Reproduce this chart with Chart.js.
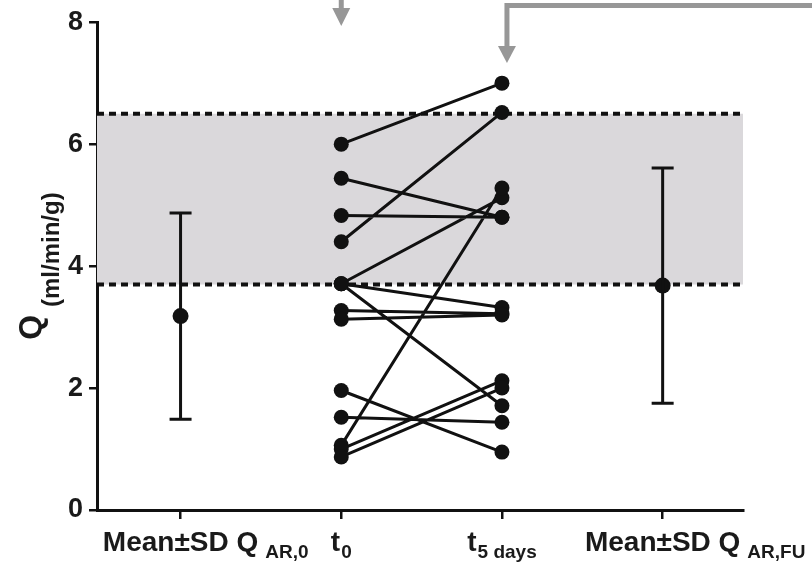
<!DOCTYPE html>
<html lang="en">
<head>
    <meta charset="UTF-8">
    <title>Q at t0 and t5 days</title>
    <style>
        html, body { margin: 0; padding: 0; background: #fff; }
        canvas { display: block; }
    </style>
</head>
<body>
    <canvas id="qChart" width="812" height="563"></canvas>

    <script src="https://cdn.jsdelivr.net/npm/chart.js"></script>
    <script>
        // x categories and their subscripts
        const categories = ['Mean±SD Q', 't', 't', 'Mean±SD Q'];
        const categorySubs = ['AR,0', '0', '5 days', 'AR,FU'];

        // paired Q values (ml/min/g) per subject
        const qT0 = [6.0, 5.44, 4.83, 4.4, 3.71, 3.71, 3.71, 3.27, 3.13, 1.96, 1.52, 1.06, 1.0, 0.87];
        const qT5 = [7.0, 4.8, 4.8, 6.52, 5.12, 3.32, 1.71, 3.22, 3.2, 0.95, 1.44, 5.28, 2.12, 2.0];

        // mean ± SD for AR,0 and AR,FU
        const meanQ = [3.18, 3.68];
        const sdQ = [1.69, 1.93];

        // reference range (shaded)
        const refRange = [3.7, 6.5];
        const yTicks = [0, 2, 4, 6, 8];

        const X_MIN = -0.52, X_MAX = 3.5;
        const FONT = '"Liberation Sans", Arial, Helvetica, sans-serif';
        const INK = '#111';

        const pairData = [];
        qT0.forEach((v, i) => {
            pairData.push({ x: 1, y: v }, { x: 2, y: qT5[i] }, { x: 1.5, y: null });
        });

        const meanData = [{ x: 0, y: meanQ[0] }, { x: 3, y: meanQ[1] }];

        function refLine(v) {
            return [{ x: X_MIN, y: v }, { x: X_MAX, y: v }];
        }

        // SD whiskers with caps
        const errorBars = {
            id: 'errorBars',
            afterDatasetsDraw(chart) {
                const ctx = chart.ctx, xs = chart.scales.x, ys = chart.scales.y;
                ctx.save();
                ctx.strokeStyle = INK;
                ctx.lineWidth = 3;
                meanData.forEach((p, i) => {
                    const x = xs.getPixelForValue(p.x);
                    const yTop = ys.getPixelForValue(meanQ[i] + sdQ[i]);
                    const yBot = ys.getPixelForValue(meanQ[i] - sdQ[i]);
                    ctx.beginPath();
                    ctx.moveTo(x, yTop); ctx.lineTo(x, yBot);
                    ctx.moveTo(x - 11, yTop); ctx.lineTo(x + 11, yTop);
                    ctx.moveTo(x - 11, yBot); ctx.lineTo(x + 11, yBot);
                    ctx.stroke();
                });
                ctx.restore();
            }
        };

        // axis labels with subscripts, and the gray arrows on top
        const labels = {
            id: 'labels',
            afterDraw(chart) {
                const ctx = chart.ctx, xs = chart.scales.x, ys = chart.scales.y;
                const mainFont = 'bold 28px ' + FONT;
                const subFont = 'bold 19px ' + FONT;
                ctx.save();
                ctx.fillStyle = '#1a1a1a';
                ctx.textBaseline = 'alphabetic';
                ctx.textAlign = 'left';

                categories.forEach((main, i) => {
                    const x0 = xs.getPixelForValue(i);
                    const sub = categorySubs[i];
                    const long = main.length > 2;
                    ctx.font = mainFont;
                    const wm = ctx.measureText(main).width;
                    ctx.font = subFont;
                    const ws = ctx.measureText(sub).width;
                    const gap = long ? 7 : 1;
                    const left = long ? x0 - wm / 2 : x0 - (wm + gap + ws) / 2;
                    ctx.font = mainFont;
                    ctx.fillText(main, left, 551);
                    ctx.font = subFont;
                    ctx.fillText(sub, left + wm + gap, 558);
                });

                // y title: Q (ml/min/g)
                ctx.save();
                const midY = (ys.top + ys.bottom) / 2;
                ctx.translate(0, midY);
                ctx.rotate(-Math.PI / 2);
                ctx.font = 'bold 32px ' + FONT;
                const wq = ctx.measureText('Q').width;
                ctx.font = 'bold 24px ' + FONT;
                const wu = ctx.measureText('(ml/min/g)').width;
                const start = -(wq + 8 + wu) / 2;
                ctx.font = 'bold 32px ' + FONT;
                ctx.fillText('Q', start, 41);
                ctx.font = 'bold 24px ' + FONT;
                ctx.fillText('(ml/min/g)', start + wq + 8, 59);
                ctx.restore();

                // gray arrows
                ctx.fillStyle = '#979797';
                ctx.strokeStyle = '#979797';
                ctx.lineWidth = 5;
                const a1 = xs.getPixelForValue(1);
                ctx.beginPath();
                ctx.moveTo(a1, 0); ctx.lineTo(a1, 10);
                ctx.stroke();
                ctx.beginPath();
                ctx.moveTo(a1 - 9, 8); ctx.lineTo(a1 + 9, 8); ctx.lineTo(a1, 26);
                ctx.closePath(); ctx.fill();

                const a2 = xs.getPixelForValue(2) + 5;
                ctx.beginPath();
                ctx.moveTo(chart.width, 5.5); ctx.lineTo(a2, 5.5); ctx.lineTo(a2, 48);
                ctx.stroke();
                ctx.beginPath();
                ctx.moveTo(a2 - 9, 46); ctx.lineTo(a2 + 9, 46); ctx.lineTo(a2, 63);
                ctx.closePath(); ctx.fill();
                ctx.restore();
            }
        };

        new Chart(document.getElementById('qChart'), {
            type: 'line',
            data: {
                datasets: [
                    {
                        label: 'ref high',
                        data: refLine(refRange[1]),
                        borderColor: INK,
                        borderWidth: 4,
                        borderDash: [7, 5],
                        pointRadius: 0,
                        fill: '+1',
                        backgroundColor: '#dad8db',
                        order: 3
                    },
                    {
                        label: 'ref low',
                        data: refLine(refRange[0]),
                        borderColor: INK,
                        borderWidth: 4,
                        borderDash: [7, 5],
                        pointRadius: 0,
                        fill: false,
                        order: 2
                    },
                    {
                        label: 'paired',
                        data: pairData,
                        borderColor: INK,
                        borderWidth: 3,
                        pointRadius: 7.5,
                        pointBackgroundColor: INK,
                        pointBorderColor: INK,
                        pointBorderWidth: 0,
                        spanGaps: false,
                        fill: false,
                        order: 1
                    },
                    {
                        label: 'mean',
                        data: meanData,
                        showLine: false,
                        pointRadius: 8,
                        pointBackgroundColor: INK,
                        pointBorderColor: INK,
                        pointBorderWidth: 0,
                        order: 0
                    }
                ]
            },
            options: {
                responsive: false,
                devicePixelRatio: 1,
                animation: false,
                layout: { padding: { top: 20, right: 69, left: 0, bottom: 0 } },
                plugins: { legend: { display: false }, tooltip: { enabled: false } },
                scales: {
                    x: {
                        type: 'linear',
                        min: X_MIN,
                        max: X_MAX,
                        afterBuildTicks: s => { s.ticks = categories.map((c, i) => ({ value: i })); },
                        afterFit: s => { s.height = 53; },
                        ticks: { display: false },
                        grid: { drawOnChartArea: false, drawTicks: true, tickLength: 9, color: INK, lineWidth: 2.5 },
                        border: { display: true, color: INK, width: 3 }
                    },
                    y: {
                        min: 0,
                        max: 8,
                        afterBuildTicks: s => { s.ticks = yTicks.map(v => ({ value: v })); },
                        afterFit: s => { s.width = 97; },
                        ticks: {
                            color: '#1a1a1a',
                            padding: 6,
                            font: { family: FONT, size: 27, weight: 'bold' }
                        },
                        grid: { drawOnChartArea: false, drawTicks: true, tickLength: 8, color: INK, lineWidth: 2.5 },
                        border: { display: true, color: INK, width: 3 }
                    }
                }
            },
            plugins: [errorBars, labels]
        });
    </script>
</body>
</html>
